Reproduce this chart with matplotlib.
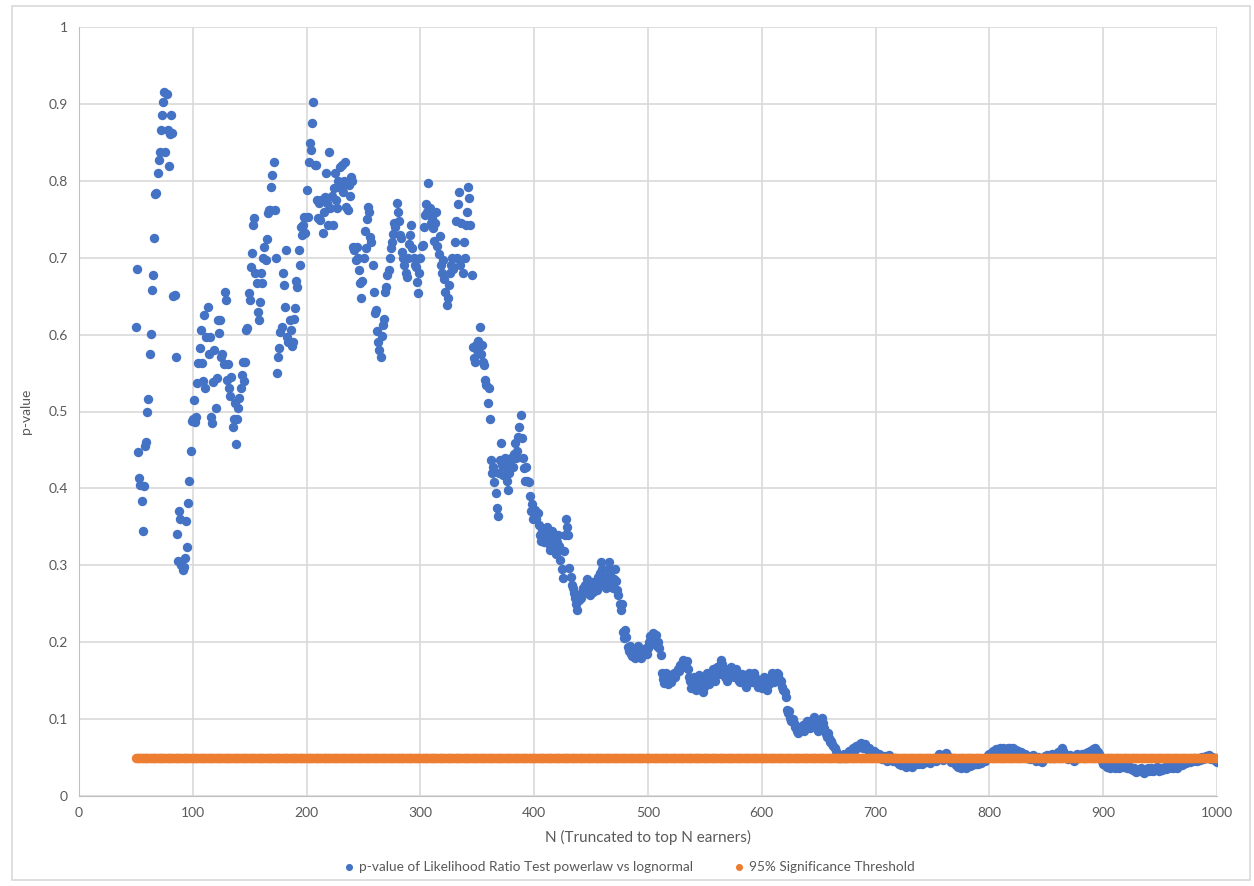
import numpy as np
import matplotlib
matplotlib.use("Agg")
import matplotlib.pyplot as plt
from matplotlib.patches import Rectangle

# N = number of top earners kept (one point per N, 50..1000)
n_start, n_end = 50, 1000

# p-values, 50 points per block
p_050 = [0.610, 0.685, 0.447, 0.413, 0.405, 0.383, 0.345, 0.403, 0.455, 0.460,
         0.499, 0.516, 0.575, 0.601, 0.658, 0.677, 0.725, 0.783, 0.784, 0.810,
         0.827, 0.838, 0.866, 0.886, 0.903, 0.916, 0.838, 0.913, 0.866, 0.819,
         0.861, 0.886, 0.862, 0.650, 0.652, 0.571, 0.341, 0.305, 0.370, 0.360,
         0.300, 0.294, 0.298, 0.310, 0.357, 0.324, 0.381, 0.409, 0.448, 0.487]
p_100 = [0.490, 0.515, 0.486, 0.493, 0.537, 0.563, 0.582, 0.606, 0.563, 0.540,
         0.625, 0.530, 0.597, 0.636, 0.575, 0.597, 0.493, 0.485, 0.538, 0.580,
         0.505, 0.543, 0.619, 0.602, 0.619, 0.571, 0.575, 0.562, 0.655, 0.645,
         0.541, 0.562, 0.530, 0.520, 0.545, 0.480, 0.490, 0.511, 0.458, 0.490,
         0.505, 0.518, 0.530, 0.548, 0.564, 0.540, 0.564, 0.606, 0.608, 0.654]
p_150 = [0.645, 0.688, 0.706, 0.742, 0.752, 0.680, 0.667, 0.629, 0.619, 0.642,
         0.680, 0.667, 0.700, 0.714, 0.697, 0.724, 0.758, 0.762, 0.762, 0.792,
         0.808, 0.825, 0.762, 0.700, 0.550, 0.571, 0.582, 0.603, 0.610, 0.680,
         0.665, 0.636, 0.710, 0.597, 0.590, 0.619, 0.606, 0.585, 0.590, 0.620,
         0.634, 0.670, 0.662, 0.710, 0.690, 0.740, 0.730, 0.742, 0.753, 0.732]
p_200 = [0.788, 0.753, 0.824, 0.849, 0.840, 0.875, 0.903, 0.820, 0.820, 0.775,
         0.752, 0.771, 0.749, 0.775, 0.732, 0.760, 0.779, 0.810, 0.771, 0.743,
         0.838, 0.765, 0.780, 0.743, 0.790, 0.810, 0.775, 0.765, 0.800, 0.818,
         0.790, 0.820, 0.785, 0.800, 0.824, 0.766, 0.762, 0.795, 0.780, 0.805,
         0.800, 0.714, 0.710, 0.697, 0.714, 0.700, 0.684, 0.667, 0.648, 0.670]
p_250 = [0.700, 0.735, 0.712, 0.750, 0.766, 0.760, 0.727, 0.720, 0.690, 0.655,
         0.628, 0.632, 0.605, 0.590, 0.580, 0.571, 0.598, 0.612, 0.620, 0.655,
         0.662, 0.678, 0.684, 0.700, 0.712, 0.720, 0.731, 0.745, 0.740, 0.771,
         0.760, 0.748, 0.730, 0.725, 0.707, 0.700, 0.690, 0.680, 0.675, 0.700,
         0.718, 0.730, 0.742, 0.713, 0.700, 0.690, 0.688, 0.668, 0.654, 0.680]
p_300 = [0.700, 0.715, 0.716, 0.740, 0.755, 0.770, 0.760, 0.797, 0.765, 0.745,
         0.752, 0.738, 0.722, 0.745, 0.760, 0.715, 0.705, 0.728, 0.690, 0.680,
         0.697, 0.672, 0.655, 0.638, 0.648, 0.665, 0.680, 0.690, 0.700, 0.685,
         0.720, 0.748, 0.700, 0.770, 0.785, 0.690, 0.745, 0.680, 0.720, 0.700,
         0.742, 0.760, 0.792, 0.778, 0.742, 0.678, 0.584, 0.570, 0.565, 0.586]
p_350 = [0.580, 0.592, 0.610, 0.575, 0.586, 0.564, 0.560, 0.541, 0.535, 0.511,
         0.530, 0.490, 0.437, 0.420, 0.428, 0.408, 0.394, 0.374, 0.364, 0.420,
         0.437, 0.459, 0.430, 0.418, 0.440, 0.428, 0.410, 0.398, 0.420, 0.435,
         0.440, 0.428, 0.445, 0.459, 0.440, 0.448, 0.467, 0.480, 0.495, 0.465,
         0.440, 0.427, 0.410, 0.428, 0.410, 0.408, 0.390, 0.370, 0.380, 0.360]
p_400 = [0.370, 0.372, 0.360, 0.368, 0.352, 0.340, 0.332, 0.345, 0.335, 0.330,
         0.338, 0.350, 0.340, 0.328, 0.320, 0.335, 0.345, 0.330, 0.322, 0.315,
         0.330, 0.340, 0.325, 0.307, 0.295, 0.283, 0.318, 0.340, 0.360, 0.350,
         0.340, 0.297, 0.285, 0.275, 0.270, 0.264, 0.258, 0.250, 0.242, 0.255,
         0.262, 0.258, 0.265, 0.270, 0.264, 0.275, 0.282, 0.268, 0.275, 0.262]
p_450 = [0.270, 0.278, 0.265, 0.272, 0.280, 0.268, 0.285, 0.276, 0.290, 0.304,
         0.295, 0.282, 0.275, 0.270, 0.285, 0.295, 0.304, 0.290, 0.278, 0.270,
         0.282, 0.295, 0.280, 0.268, 0.262, 0.250, 0.242, 0.250, 0.213, 0.205,
         0.216, 0.207, 0.194, 0.188, 0.195, 0.185, 0.182, 0.190, 0.186, 0.180,
         0.188, 0.195, 0.183, 0.187, 0.180, 0.190, 0.184, 0.188, 0.193, 0.185]
p_500 = [0.192, 0.200, 0.208, 0.198, 0.212, 0.205, 0.200, 0.210, 0.195, 0.200,
         0.192, 0.183, 0.160, 0.152, 0.147, 0.155, 0.160, 0.150, 0.145, 0.155,
         0.148, 0.152, 0.158, 0.160, 0.155, 0.160, 0.165, 0.162, 0.170, 0.168,
         0.172, 0.177, 0.170, 0.168, 0.175, 0.165, 0.155, 0.150, 0.140, 0.145,
         0.155, 0.148, 0.138, 0.145, 0.150, 0.157, 0.148, 0.140, 0.135, 0.142]
p_550 = [0.148, 0.152, 0.160, 0.150, 0.145, 0.155, 0.160, 0.165, 0.158, 0.150,
         0.162, 0.168, 0.158, 0.170, 0.177, 0.172, 0.165, 0.160, 0.155, 0.150,
         0.158, 0.165, 0.162, 0.168, 0.165, 0.160, 0.155, 0.165, 0.160, 0.155,
         0.150, 0.148, 0.155, 0.158, 0.152, 0.145, 0.142, 0.150, 0.155, 0.160,
         0.152, 0.148, 0.155, 0.160, 0.155, 0.150, 0.145, 0.142, 0.150, 0.145]
p_600 = [0.140, 0.150, 0.155, 0.148, 0.142, 0.138, 0.145, 0.150, 0.155, 0.160,
         0.152, 0.148, 0.155, 0.160, 0.158, 0.152, 0.148, 0.150, 0.142, 0.138,
         0.135, 0.129, 0.112, 0.108, 0.110, 0.102, 0.098, 0.100, 0.095, 0.090,
         0.088, 0.085, 0.082, 0.085, 0.090, 0.088, 0.092, 0.085, 0.090, 0.095,
         0.098, 0.092, 0.088, 0.095, 0.098, 0.100, 0.103, 0.095, 0.090, 0.085]
p_650 = [0.088, 0.092, 0.098, 0.102, 0.095, 0.088, 0.080, 0.077, 0.082, 0.075,
         0.070, 0.072, 0.068, 0.065, 0.062, 0.058, 0.055, 0.052, 0.050, 0.049,
         0.052, 0.050, 0.055, 0.052, 0.049, 0.052, 0.055, 0.058, 0.056, 0.060,
         0.062, 0.058, 0.062, 0.065, 0.063, 0.066, 0.068, 0.069, 0.065, 0.062,
         0.066, 0.068, 0.064, 0.060, 0.062, 0.058, 0.055, 0.057, 0.055, 0.058]
p_700 = [0.056, 0.054, 0.052, 0.055, 0.053, 0.050, 0.048, 0.050, 0.052, 0.048,
         0.046, 0.050, 0.053, 0.050, 0.047, 0.045, 0.048, 0.050, 0.046, 0.044,
         0.045, 0.042, 0.040, 0.043, 0.045, 0.042, 0.040, 0.038, 0.041, 0.040,
         0.043, 0.040, 0.038, 0.040, 0.042, 0.045, 0.043, 0.041, 0.044, 0.046,
         0.044, 0.042, 0.045, 0.047, 0.044, 0.046, 0.048, 0.045, 0.043, 0.046]
p_750 = [0.048, 0.050, 0.047, 0.045, 0.048, 0.052, 0.055, 0.052, 0.049, 0.047,
         0.050, 0.054, 0.056, 0.053, 0.050, 0.047, 0.044, 0.046, 0.049, 0.046,
         0.043, 0.040, 0.038, 0.041, 0.039, 0.037, 0.040, 0.042, 0.039, 0.037,
         0.040, 0.043, 0.041, 0.039, 0.042, 0.040, 0.043, 0.045, 0.042, 0.044,
         0.041, 0.044, 0.046, 0.043, 0.045, 0.048, 0.046, 0.049, 0.051, 0.053]
p_800 = [0.055, 0.053, 0.056, 0.058, 0.056, 0.059, 0.061, 0.058, 0.060, 0.062,
         0.059, 0.061, 0.063, 0.060, 0.058, 0.061, 0.063, 0.060, 0.062, 0.059,
         0.060, 0.062, 0.058, 0.060, 0.057, 0.059, 0.056, 0.054, 0.057, 0.055,
         0.052, 0.054, 0.051, 0.049, 0.052, 0.050, 0.048, 0.051, 0.053, 0.050,
         0.048, 0.046, 0.049, 0.051, 0.048, 0.046, 0.044, 0.047, 0.050, 0.052]
p_850 = [0.050, 0.053, 0.051, 0.049, 0.052, 0.054, 0.051, 0.049, 0.052, 0.055,
         0.057, 0.054, 0.057, 0.060, 0.062, 0.058, 0.055, 0.052, 0.050, 0.048,
         0.051, 0.053, 0.050, 0.048, 0.046, 0.049, 0.052, 0.054, 0.051, 0.049,
         0.052, 0.055, 0.053, 0.050, 0.053, 0.056, 0.054, 0.057, 0.059, 0.056,
         0.058, 0.061, 0.059, 0.062, 0.060, 0.057, 0.055, 0.052, 0.048, 0.045]
p_900 = [0.042, 0.044, 0.040, 0.038, 0.041, 0.039, 0.036, 0.039, 0.042, 0.040,
         0.037, 0.039, 0.041, 0.038, 0.036, 0.039, 0.041, 0.038, 0.040, 0.042,
         0.039, 0.037, 0.040, 0.038, 0.035, 0.037, 0.034, 0.036, 0.033, 0.031,
         0.034, 0.032, 0.035, 0.037, 0.034, 0.031, 0.030, 0.032, 0.034, 0.036,
         0.033, 0.035, 0.037, 0.034, 0.032, 0.034, 0.036, 0.038, 0.035, 0.033]
p_950 = [0.035, 0.037, 0.034, 0.036, 0.038, 0.035, 0.037, 0.039, 0.036, 0.038,
         0.040, 0.037, 0.039, 0.041, 0.038, 0.036, 0.039, 0.041, 0.043, 0.040,
         0.042, 0.044, 0.046, 0.043, 0.045, 0.047, 0.044, 0.046, 0.048, 0.045,
         0.047, 0.049, 0.046, 0.048, 0.050, 0.047, 0.049, 0.051, 0.048, 0.050,
         0.052, 0.049, 0.051, 0.053, 0.050, 0.048, 0.051, 0.049, 0.047, 0.045,
         0.044]

threshold = 0.05  # 95% significance

n_values = np.arange(n_start, n_end + 1)
p_values = np.concatenate([p_050, p_100, p_150, p_200, p_250, p_300, p_350,
                           p_400, p_450, p_500, p_550, p_600, p_650, p_700,
                           p_750, p_800, p_850, p_900, p_950])
thr_values = np.full(len(n_values), threshold)

plt.rcParams['font.family'] = ['Lato', 'DejaVu Sans']
grey_txt = '#595959'
grid_col = '#D9D9D9'

W, H = 1254, 886
fig = plt.figure(figsize=(W / 100, H / 100), dpi=100)
ax = fig.add_axes([79 / W, (H - 796) / H, (1217 - 79) / W, (796 - 27) / H])

# outer chart frame
fig.patches.append(Rectangle((12 / W, 6 / H), 1238 / W, 874 / H, transform=fig.transFigure,
                             fill=False, edgecolor=grid_col, linewidth=1.2))

ax.scatter(n_values, p_values, s=46, color='#4472C4', linewidths=0, zorder=3,
           label='p-value of Likelihood Ratio Test powerlaw vs lognormal')
ax.scatter(n_values, thr_values, s=46, color='#ED7D31', linewidths=0, zorder=4,
           label='95% Significance Threshold')

ax.set_xlim(0, 1000)
ax.set_ylim(0, 1)
ax.set_xticks(np.arange(0, 1001, 100))
ax.set_yticks(np.arange(0, 1.01, 0.1))
ax.set_yticklabels(['0'] + ['%.1f' % v for v in np.arange(0.1, 0.95, 0.1)] + ['1'])
ax.grid(True, color=grid_col, linewidth=1.2)
ax.set_axisbelow(True)
for s in ax.spines.values():
    s.set_visible(False)
ax.spines['left'].set_visible(True)
ax.spines['bottom'].set_visible(True)
ax.spines['left'].set_color('#BFBFBF')
ax.spines['bottom'].set_color('#BFBFBF')
ax.tick_params(length=0, labelsize=10, labelcolor=grey_txt, pad=8)

ax.set_xlabel('N (Truncated to top N earners)', fontsize=11, color=grey_txt, labelpad=8)
ax.set_ylabel('p-value', fontsize=10, color=grey_txt, labelpad=12)

fig.legend(loc='center left', bbox_to_anchor=(344 / W, (H - 867) / H), ncol=2, frameon=False,
           fontsize=9.8, labelcolor=grey_txt, handlelength=0.8, handletextpad=0.3,
           columnspacing=3.0, markerscale=0.75, borderaxespad=0, borderpad=0)

fig.savefig('out.png', dpi=100)
